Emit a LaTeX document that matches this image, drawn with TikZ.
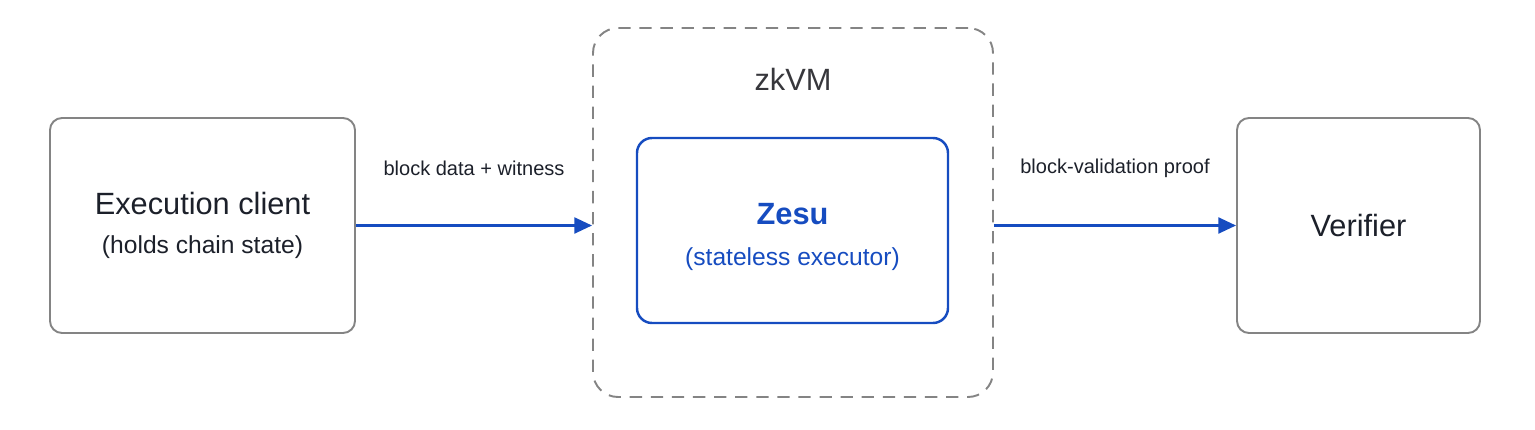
\documentclass[tikz,border=0pt]{standalone}
\usepackage{fontspec}
\setmainfont{Liberation Sans}
\usetikzlibrary{arrows.meta,positioning}
\definecolor{flowblue}{RGB}{22,76,192}
\definecolor{boxgray}{RGB}{132,132,132}
\definecolor{inkdark}{RGB}{28,32,42}
\newcommand{\titlesize}{\fontsize{17.5}{21}\selectfont}
\newcommand{\subsize}{\fontsize{14}{17}\selectfont}
\newcommand{\edgesize}{\fontsize{11.4}{14}\selectfont}
\begin{document}
\begin{tikzpicture}[
  block/.style={draw=boxgray, line width=1.1pt, rounded corners=0.24cm,
    text=inkdark, align=center, inner sep=0pt},
  vmframe/.style={draw=boxgray, line width=1.1pt, dash pattern=on 7pt off 5pt,
    rounded corners=0.5cm, inner sep=0pt},
  core/.style={draw=flowblue, line width=1.4pt, rounded corners=0.3cm,
    text=flowblue, align=center, inner sep=0pt},
  flow/.style={draw=flowblue, line width=1.4pt, -{Triangle[length=10pt,width=9pt]}},
  edgetext/.style={text=inkdark, font=\edgesize}
]
  \useasboundingbox (0,0) rectangle (30.7,-8.6);
  \node[block, minimum width=6.1cm, minimum height=4.3cm] (client) at (4.05,-4.51)
    {{\titlesize Execution client}\\[0.35cm]{\subsize (holds chain state)}};
  \node[vmframe, minimum width=8cm, minimum height=7.38cm] (zkvm) at (15.86,-4.25) {};
  \node[text={rgb,255:red,55;green,55;blue,60}, font=\titlesize] (zkvmlabel)
    at ([yshift=-1.04cm]zkvm.north) {zkVM};
  \node[core, minimum width=6.22cm, minimum height=3.7cm] (zesu) at (15.85,-4.61)
    {{\titlesize\rule{0pt}{19.5pt}\textbf{Zesu}}\\[0.4cm]{\subsize (stateless executor)}};
  \node[block, minimum width=4.86cm, minimum height=4.3cm] (verifier) at (27.17,-4.51)
    {{\titlesize Verifier}};
  \draw[flow] (client.east) -- (zkvm.west |- client.east)
    node[midway, yshift=1.14cm, edgetext] (inlabel) {block data + witness};
  \draw[flow] (zkvm.east |- verifier.west) -- (verifier.west)
    node[midway, yshift=1.14cm, edgetext] (outlabel) {block-validation proof};
\end{tikzpicture}
\end{document}
